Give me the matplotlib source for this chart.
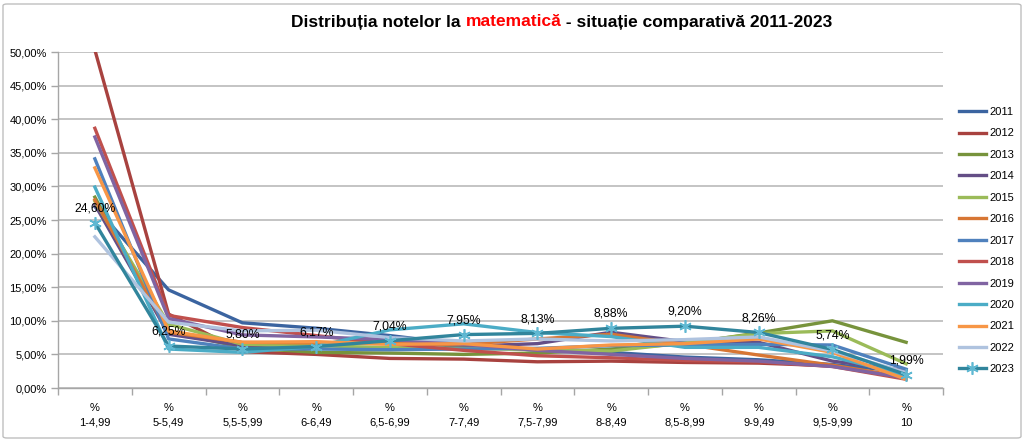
import matplotlib
matplotlib.use('Agg')
import matplotlib.pyplot as plt
from matplotlib import font_manager
from matplotlib.ticker import FuncFormatter, FixedLocator
from matplotlib.patches import FancyBboxPatch

# Grade intervals (x axis)
categories = ['%\n1-4,99', '%\n5-5,49', '%\n5,5-5,99', '%\n6-6,49', '%\n6,5-6,99', '%\n7-7,49',
              '%\n7,5-7,99', '%\n8-8,49', '%\n8,5-8,99', '%\n9-9,49', '%\n9,5-9,99', '%\n10']

# Share of students per interval, in percent
y2011 = [27.0, 14.6, 9.7, 8.9, 7.8, 6.5, 5.6, 5.3, 4.6, 4.2, 3.5, 2.4]
y2012 = [50.3, 11.0, 5.4, 5.0, 4.4, 4.3, 3.9, 4.0, 3.8, 3.7, 3.3, 1.5]
y2013 = [28.4, 8.5, 6.0, 5.3, 5.2, 5.0, 5.2, 5.8, 6.6, 8.2, 10.0, 6.8]
y2014 = [27.3, 8.0, 6.3, 6.5, 6.8, 6.2, 6.6, 8.3, 6.9, 6.8, 4.0, 2.6]
y2015 = [27.8, 9.5, 6.5, 6.3, 6.0, 5.9, 5.7, 5.5, 6.7, 8.1, 8.5, 3.6]
y2016 = [28.0, 8.3, 6.8, 6.7, 6.6, 6.5, 7.3, 8.0, 6.5, 4.9, 3.4, 1.6]
y2017 = [34.1, 7.3, 5.8, 5.8, 5.7, 5.8, 5.9, 6.3, 6.4, 6.5, 6.4, 2.8]
y2018 = [38.65, 10.8, 9.0, 7.8, 6.6, 5.6, 4.8, 4.5, 4.1, 3.9, 3.2, 1.3]
y2019 = [37.35, 10.35, 7.9, 7.6, 7.2, 6.5, 5.6, 5.0, 4.4, 4.0, 3.2, 1.5]
y2020 = [29.9, 5.8, 5.3, 6.2, 8.65, 9.55, 8.25, 7.65, 6.05, 6.05, 4.65, 1.9]
y2021 = [32.75, 8.5, 6.8, 6.9, 6.5, 6.6, 5.8, 6.4, 6.6, 7.3, 5.3, 1.3]
y2022 = [22.5, 9.8, 8.5, 8.6, 7.5, 7.0, 7.3, 7.0, 7.2, 7.6, 5.5, 2.3]
y2023 = [24.60, 6.25, 5.80, 6.17, 7.04, 7.95, 8.13, 8.88, 9.20, 8.26, 5.74, 1.99]

years = ['2011', '2012', '2013', '2014', '2015', '2016', '2017',
         '2018', '2019', '2020', '2021', '2022', '2023']
colors = ['#3B64A0', '#A8423F', '#77933C', '#644E86', '#9BBB59', '#D77634', '#4F81BD',
          '#C0504D', '#8064A2', '#4BACC6', '#F79646', '#AFC3DF', '#31859C']
series = [y2011, y2012, y2013, y2014, y2015, y2016, y2017,
          y2018, y2019, y2020, y2021, y2022, y2023]

names = {f.name for f in font_manager.fontManager.ttflist}
title_font = 'Liberation Sans Narrow' if 'Liberation Sans Narrow' in names else 'Liberation Sans'
label_font = 'Liberation Sans'

fig = plt.figure(figsize=(10.24, 4.41), dpi=100)
ax = fig.add_axes([58 / 1024, 53 / 441, 885 / 1024, 336 / 441])

x = list(range(len(categories)))
handles = []
for yr, col, vals in zip(years, colors, series):
    if yr == '2023':
        ln, = ax.plot(x, vals, color=col, lw=2.4, marker=(6, 2, 0), ms=9,
                      mec='#5FB8D2', mew=1.2, zorder=5, label=yr)
    else:
        ln, = ax.plot(x, vals, color=col, lw=2.4, zorder=3, label=yr)
    handles.append(ln)

# data labels for 2023
for xi, v in zip(x, y2023):
    ax.annotate(f'{v:.2f}%'.replace('.', ','), (xi, v), xytext=(0, 6),
                textcoords='offset points', ha='center', va='bottom',
                fontsize=8.8, family=label_font, color='black', zorder=6)

ax.set_xlim(-0.5, len(categories) - 0.5)
ax.set_ylim(0, 50)
ax.set_yticks([0, 5, 10, 15, 20, 25, 30, 35, 40, 45, 50])
ax.yaxis.set_major_formatter(FuncFormatter(lambda v, p: f'{v:.2f}%'.replace('.', ',')))
ax.grid(axis='y', color='#BFBFBF', lw=1.3)
ax.set_axisbelow(True)

# Excel-style category axis: ticks between categories, labels centred
ax.xaxis.set_major_locator(FixedLocator([i - 0.5 for i in range(len(categories) + 1)]))
ax.xaxis.set_minor_locator(FixedLocator(x))
ax.set_xticklabels([])
ax.set_xticklabels(categories, minor=True)
ax.tick_params(axis='x', which='major', length=5, color='#A6A6A6', width=1)
ax.tick_params(axis='x', which='minor', length=0, pad=11)
ax.tick_params(axis='y', length=5, color='#A6A6A6', width=1, pad=3)
for lab in ax.get_xticklabels(minor=True):
    lab.set_linespacing(1.55)
for lab in ax.get_xticklabels(minor=True) + ax.get_yticklabels():
    lab.set_fontsize(8)
    lab.set_family(label_font)
for s in ['top', 'right']:
    ax.spines[s].set_visible(False)
for s in ['left', 'bottom']:
    ax.spines[s].set_color('#A6A6A6')
    ax.spines[s].set_linewidth(1)

fig.legend(handles=handles, loc='upper left', bbox_to_anchor=(959 / 1024, 1 - 107 / 441),
           frameon=False, prop={'family': label_font, 'size': 8}, handlelength=2.4,
           handletextpad=0.3, labelspacing=1.03, borderpad=0, borderaxespad=0)

# outer chart border
fig.patches.append(FancyBboxPatch((3 / 1024, 3 / 441), 1018 / 1024, 434 / 441,
                                  boxstyle='round,pad=0,rounding_size=0.004',
                                  transform=fig.transFigure, fc='none', ec='#BFBFBF', lw=1))

# title in three colours
parts = [('Distribuția notelor la ', 'black'), ('matematică', '#FF0000'),
         (' - situație comparativă 2011-2023', 'black')]
tsize = 15 if title_font == 'Liberation Sans Narrow' else 12.5
texts = [fig.text(0, 1 - 22 / 441, t, color=c, fontsize=tsize, fontweight='bold',
                  family=title_font, va='center', ha='left') for t, c in parts]
fig.canvas.draw()
r = fig.canvas.get_renderer()
widths = [t.get_window_extent(r).width for t in texts]
start = (fig.bbox.width - sum(widths)) / 2 + 50
for t, w in zip(texts, widths):
    t.set_x(start / fig.bbox.width)
    start += w

fig.savefig('out.png', dpi=100)
